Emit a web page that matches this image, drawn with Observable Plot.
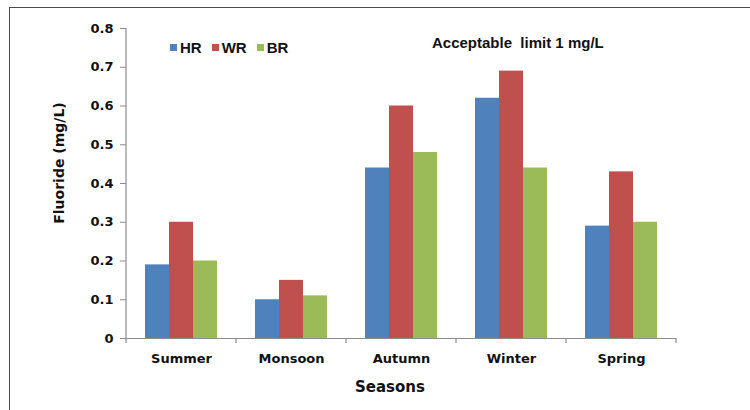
<!DOCTYPE html>
<html>
<head>
<meta charset="utf-8">
<script src="https://cdn.jsdelivr.net/npm/d3@7"></script>
<script src="https://cdn.jsdelivr.net/npm/@observablehq/plot@0.6"></script>
<style>
  body { margin: 0; background: #fff; font-family: "Liberation Sans", Arial, sans-serif; }
  #wrap { position: relative; width: 750px; height: 410px; overflow: hidden; background: #fff; }
  #border { position: absolute; left: 9px; top: 7px; width: 800px; height: 460px; border: 1.6px solid #4a4a4a; box-sizing: border-box; }
  #chart { position: absolute; left: 0; top: 0; }
  #chart svg text { font-family: "DejaVu Sans", Verdana, sans-serif; font-weight: bold; }
  .ov { position: absolute; white-space: pre; color: #111; line-height: 1.15; }
  #ylab { left: 59px; top: 163px; font-family: "DejaVu Sans", sans-serif; font-size: 14px; font-weight: bold; transform: translate(-50%, -50%) rotate(-90deg); }
  #xlab { left: 390px; top: 379px; font-family: "DejaVu Sans", sans-serif; font-size: 15px; font-weight: bold; transform: translateX(-50%); }
  #note { left: 432px; top: 34px; font-size: 15px; font-weight: bold; font-family: "Liberation Sans", Arial, sans-serif; }
  #legend { position: absolute; left: 170px; top: 40px; display: flex; align-items: center; font-size: 15px; font-weight: bold; line-height: 1; color: #111; }
  #legend .item { display: flex; align-items: center; margin-right: 10px; }
  #legend .sw { width: 7px; height: 7px; margin-right: 3px; }
</style>
</head>
<body>
<div id="wrap">
  <div id="border"></div>
  <div id="chart"></div>
  <div id="legend"></div>
  <div class="ov" id="note">Acceptable  limit 1 mg/L</div>
  <div class="ov" id="ylab">Fluoride (mg/L)</div>
  <div class="ov" id="xlab">Seasons</div>
</div>
<script>
const seasons = ["Summer", "Monsoon", "Autumn", "Winter", "Spring"];
const series = ["HR", "WR", "BR"];
const HR = [0.19, 0.10, 0.44, 0.62, 0.29];
const WR = [0.30, 0.15, 0.60, 0.69, 0.43];
const BR = [0.20, 0.11, 0.48, 0.44, 0.30];
const colors = ["#4F81BD", "#C0504D", "#9BBB59"];
const yTicks = [0, 0.1, 0.2, 0.3, 0.4, 0.5, 0.6, 0.7, 0.8];
const yTickLabels = ["0", "0.1", "0.2", "0.3", "0.4", "0.5", "0.6", "0.7", "0.8"];

const valuesBySeries = {HR, WR, BR};
const data = [];
seasons.forEach((s, i) => series.forEach(k => data.push({season: s, series: k, value: valuesBySeries[k][i]})));

const axisColor = "#8c8c8c";

const plot = Plot.plot({
  width: 750,
  height: 410,
  marginLeft: 125,
  marginRight: 73,
  marginTop: 28,
  marginBottom: 72,
  style: {background: "transparent", fontSize: "13px", color: "#111"},
  fx: {domain: seasons, padding: 0, label: null, axis: null},
  x: {domain: series, paddingInner: 0, paddingOuter: 0.76, align: 0.5, axis: null},
  y: {domain: [0, 0.8], axis: null},
  color: {domain: series, range: colors},
  marks: [
    Plot.barY(data, {fx: "season", x: "series", y: "value", fill: "series"}),
    Plot.ruleY([0], {stroke: axisColor, strokeWidth: 1.2}),
    Plot.axisY({
      ticks: yTicks,
      tickFormat: (d) => yTickLabels[yTicks.indexOf(d)],
      tickSize: 6,
      tickPadding: 7,
      stroke: axisColor,
      fill: "#111",
      fontSize: 13,
      label: null
    }),
    Plot.axisFx({
      anchor: "bottom",
      tickSize: 0,
      tickPadding: 15,
      fill: "#111",
      fontSize: 13,
      label: null
    })
  ]
});
document.getElementById("chart").appendChild(plot);

// axis line and category boundary ticks from the library's own scales
const fx = plot.scale("fx");
const y = plot.scale("y");
const fxLeft = s => fx.apply(s);
const y0 = y.apply(0), yTop = y.apply(0.8);
const bounds = seasons.map(fxLeft).concat([fxLeft(seasons[seasons.length - 1]) + fx.bandwidth]);
const g = d3.select(plot).append("g").attr("stroke", axisColor).attr("stroke-width", 1.2);
g.append("line").attr("x1", bounds[0]).attr("x2", bounds[0]).attr("y1", yTop).attr("y2", y0);
bounds.forEach(b => g.append("line").attr("x1", b).attr("x2", b).attr("y1", y0).attr("y2", y0 + 5));

// legend
const legend = d3.select("#legend");
series.forEach((s, i) => {
  const it = legend.append("div").attr("class", "item");
  it.append("div").attr("class", "sw").style("background", colors[i]);
  it.append("span").text(s);
});
</script>
</body>
</html>
